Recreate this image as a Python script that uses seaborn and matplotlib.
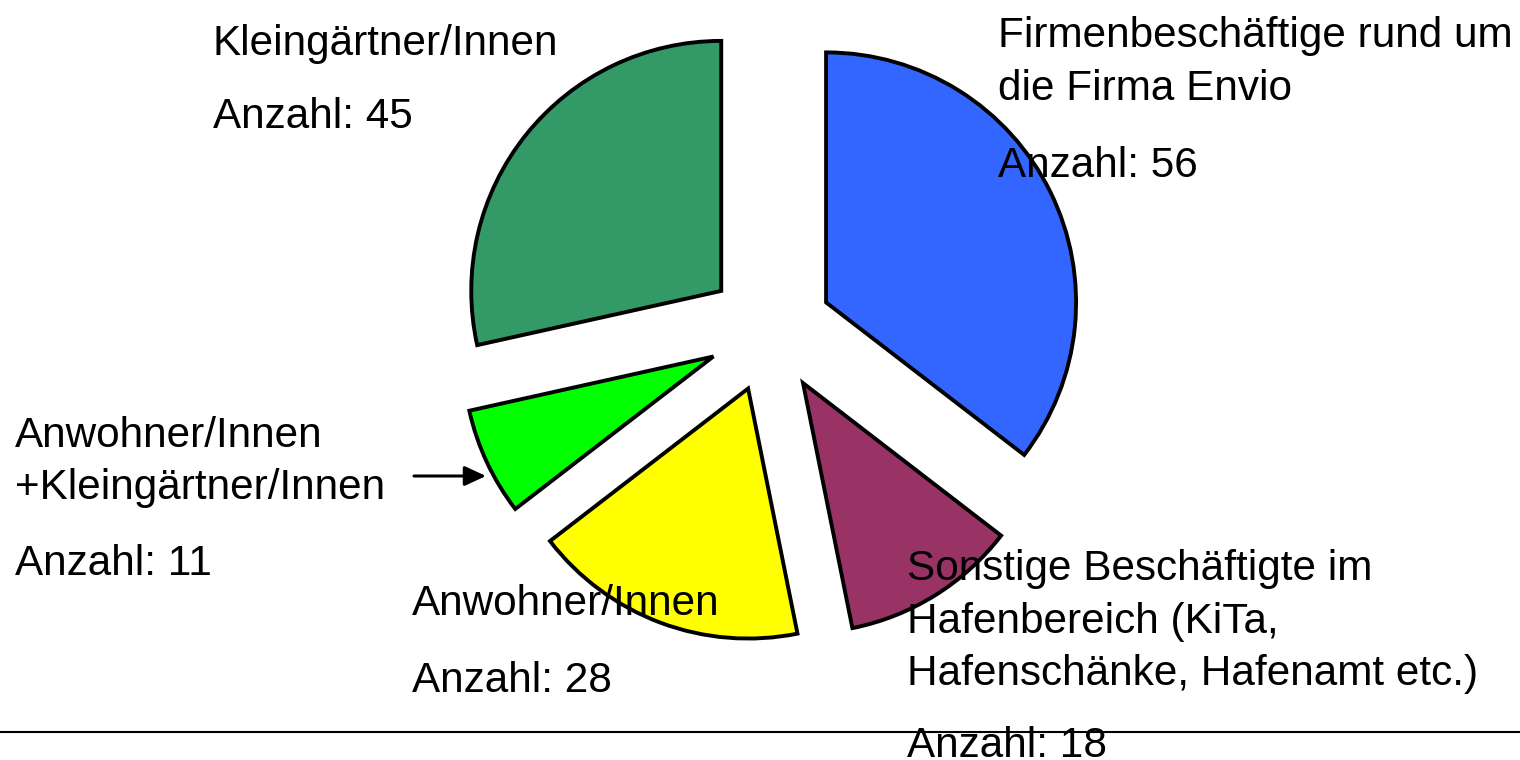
import matplotlib
matplotlib.use("Agg")
import matplotlib.pyplot as plt
import seaborn as sns
from matplotlib.lines import Line2D

sns.set_style("white")
plt.rcParams['font.family'] = ['Liberation Sans', 'DejaVu Sans']
plt.rcParams['text.color'] = 'black'

# Data
groups = ["Firmenbeschäftige rund um die Firma Envio",
          "Sonstige Beschäftigte im Hafenbereich (KiTa, Hafenschänke, Hafenamt etc.)",
          "Anwohner/Innen",
          "Anwohner/Innen +Kleingärtner/Innen",
          "Kleingärtner/Innen"]
counts = [56, 18, 28, 11, 45]
colors = ["#3366FF", "#993366", "#FFFF00", "#00FF00", "#339966"]

W, H = 1520, 760
fig = plt.figure(figsize=(W / 100, H / 100), dpi=100)
ax = fig.add_axes([0, 0, 1, 1])

# pie centre at pixel (770, 330), radius 250 px
cx, cy, r = 770, 330, 250
ax.pie(counts, colors=colors, startangle=90, counterclock=False,
       explode=[0.25] * len(counts), radius=1,
       wedgeprops=dict(edgecolor="black", linewidth=2.8))
ax.set_xlim(-cx / r, (W - cx) / r)
ax.set_ylim(-(H - cy) / r, cy / r)
ax.set_aspect("equal")
ax.axis("off")


def px(x, y):
    return x / W, 1 - y / H


fs = 30.4
labels = [
    (213, ["Kleingärtner/Innen"], 55, 128, 45),
    (998, ["Firmenbeschäftige rund um", "die Firma Envio"], 47, 177, 56),
    (15, ["Anwohner/Innen", "+Kleingärtner/Innen"], 447, 575, 11),
    (412, ["Anwohner/Innen"], 615, 692, 28),
    (907, ["Sonstige Beschäftigte im", "Hafenbereich (KiTa,",
           "Hafenschänke, Hafenamt etc.)"], 580, 757, 18),
]
for x, lines, y0, ya, n in labels:
    for i, line in enumerate(lines):
        fig.text(*px(x, y0 + i * 52.5), line, fontsize=fs, va="baseline",
                 ha="left", color="black")
    fig.text(*px(x, ya), f"Anzahl: {n}", fontsize=fs, va="baseline",
             ha="left", color="black")

# arrow to the small wedge
ax.annotate("", xy=px(486, 476), xytext=px(414, 476),
            xycoords="figure fraction", textcoords="figure fraction",
            arrowprops=dict(arrowstyle="-|>,head_length=1.3,head_width=0.6",
                            color="black", lw=2.2, shrinkA=0, shrinkB=0))

# bottom rule
fig.add_artist(Line2D([0, 1], [1 - 731.5 / H] * 2, color="black", lw=1.5))

plt.savefig("out.png", dpi=100)
